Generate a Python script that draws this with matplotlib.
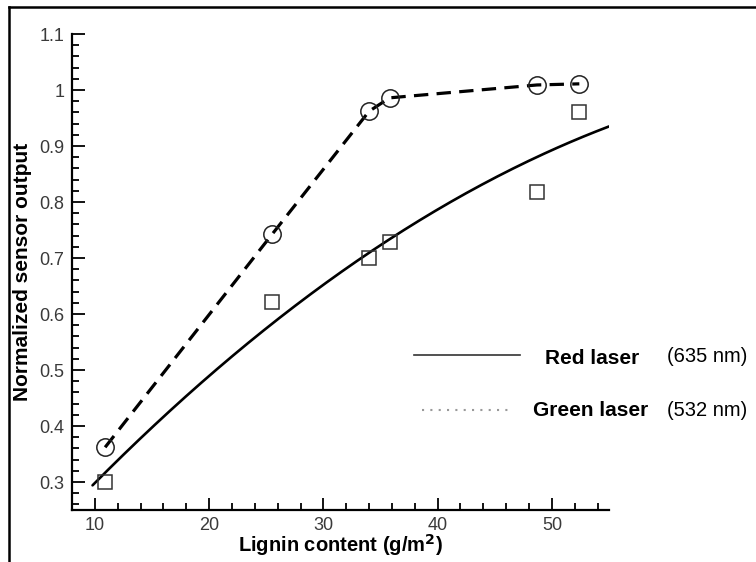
import matplotlib
matplotlib.use("Agg")
import matplotlib.pyplot as plt
from matplotlib.lines import Line2D
import numpy as np

plt.rcParams['font.family'] = ['Liberation Sans', 'DejaVu Sans']

# lignin content (g/m^2) of the samples
lignin = [10.9, 25.5, 34.0, 35.8, 48.7, 52.4]
# normalized output, green laser (532 nm)
green_out = [0.362, 0.742, 0.962, 0.986, 1.009, 1.011]
# normalized output, red laser (635 nm)
red_out = [0.300, 0.621, 0.700, 0.729, 0.818, 0.961]
# quadratic trend for the red laser, y = c2*x^2 + c1*x + c0
red_trend = [-0.000142, 0.02338, 0.0786]
trend_range = [9.8, 55.0]

fig = plt.figure(figsize=(7.56, 5.62), dpi=100)
ax = fig.add_axes([0.0952, 0.0925, 0.7104, 0.847])

# trend curve for red laser
xs = np.linspace(trend_range[0], trend_range[1], 200)
ax.plot(xs, np.polyval(red_trend, xs), color="black", lw=1.9, solid_capstyle="round", zorder=3)

# green laser points joined by dashed segments
ax.plot(lignin, green_out, color="black", lw=2.3, ls=(0, (4.5, 2.6)), zorder=3)
ax.plot(lignin, green_out, ls="none", marker="o", ms=12.5, mfc="none", mec="#222222", mew=1.1, zorder=4)

# red laser points
ax.plot(lignin, red_out, ls="none", marker="s", ms=9.5, mfc="none", mec="#333333", mew=1.1, zorder=4)

ax.set_xlim(8, 55)
ax.set_ylim(0.25, 1.1)
ax.set_xticks([10, 20, 30, 40, 50])
ax.set_xticks(np.arange(8, 55.1, 2), minor=True)
ax.set_yticks([0.3, 0.4, 0.5, 0.6, 0.7, 0.8, 0.9, 1.0, 1.1])
ax.set_yticklabels(["0.3", "0.4", "0.5", "0.6", "0.7", "0.8", "0.9", "1", "1.1"])
ax.set_yticks(np.arange(0.26, 1.101, 0.02), minor=True)
ax.tick_params(which="both", direction="in", width=1.3, colors="black", labelcolor="#3a3a3a", labelsize=13)
ax.tick_params(which="major", length=9)
ax.tick_params(which="minor", length=5)
ax.tick_params(axis="x", pad=5)
ax.tick_params(axis="y", pad=5.5)
for side in ["top", "right"]:
    ax.spines[side].set_visible(False)
for side in ["left", "bottom"]:
    ax.spines[side].set_linewidth(1.6)

ax.set_xlabel("Lignin content (g/m$^{\\mathbf{2}}$)", fontsize=14.5, fontweight="bold", labelpad=-1)
ax.set_ylabel("Normalized sensor output", fontsize=15, fontweight="bold", labelpad=5)

# legend entries drawn to the right of the plot
fig.add_artist(Line2D([414 / 756, 520 / 756], [1 - 355 / 562] * 2, color="#333333", lw=1.2))
fig.add_artist(Line2D([422 / 756, 513 / 756], [1 - 410 / 562] * 2, color="#999999", lw=1.5, ls=(0, (1, 3))))
fig.text(545 / 756, 1 - 358 / 562, "Red laser", fontsize=15, fontweight="bold", va="center")
fig.text(533 / 756, 1 - 410 / 562, "Green laser", fontsize=15, fontweight="bold", va="center")
fig.text(667 / 756, 1 - 357 / 562, "(635 nm)", fontsize=14.5, va="center")
fig.text(667 / 756, 1 - 410 / 562, "(532 nm)", fontsize=14.5, va="center")

# outer frame, top and left edges
fig.add_artist(Line2D([9 / 756, 1.0], [1 - 7 / 562] * 2, color="black", lw=1.8))
fig.add_artist(Line2D([9 / 756] * 2, [0.0, 1 - 7 / 562], color="black", lw=1.8))

fig.savefig("out.png", dpi=100)
